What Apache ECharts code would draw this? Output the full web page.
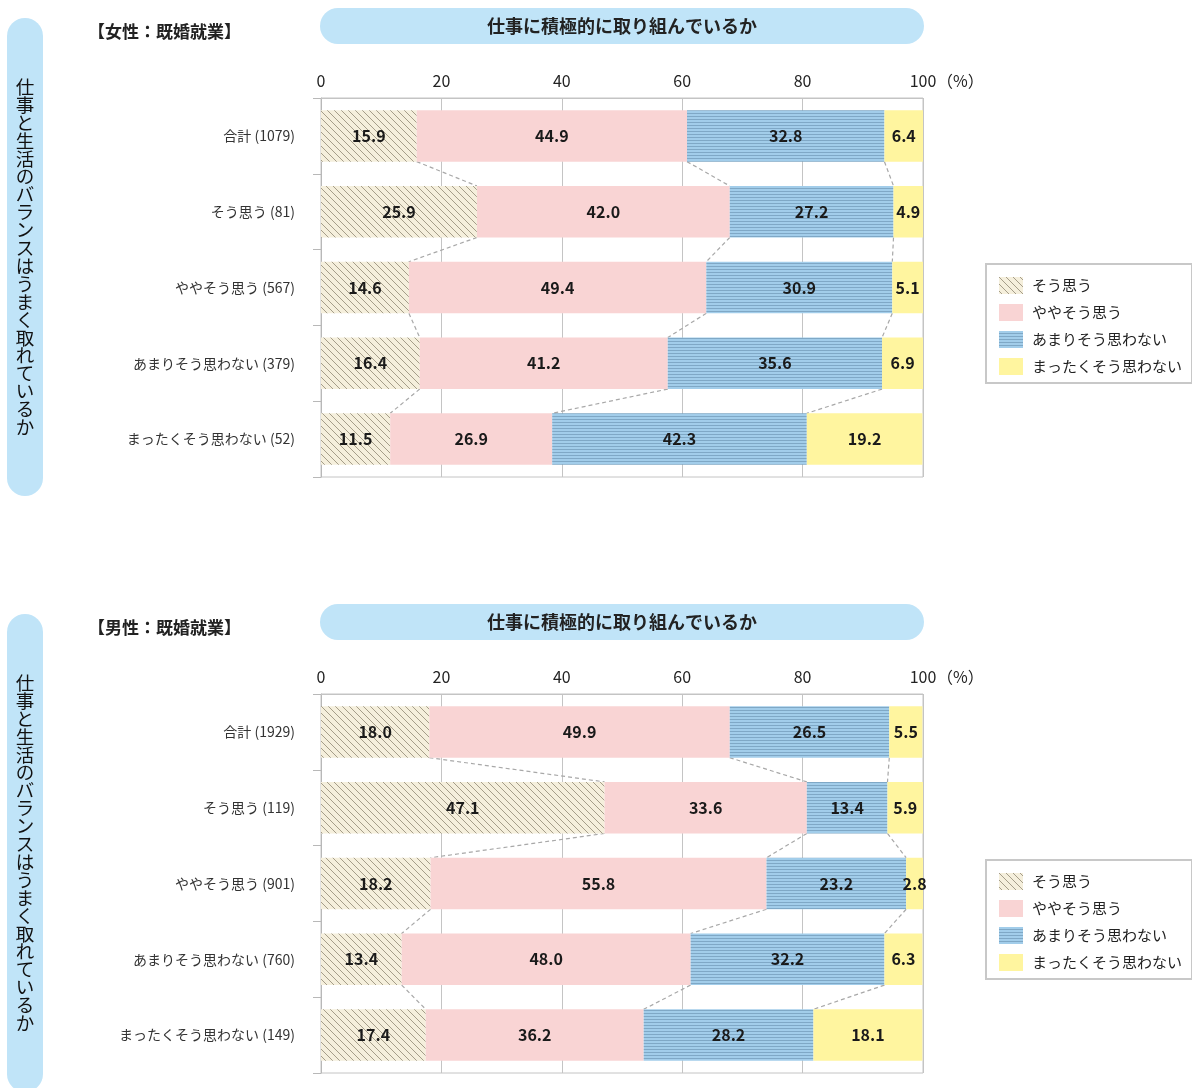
<!DOCTYPE html>
<html><head><meta charset="utf-8">
<script src="https://cdn.jsdelivr.net/npm/echarts/dist/echarts.min.js"></script>
<style>html,body{margin:0;padding:0;background:#fff}#c{width:1192px;height:1088px}</style>
</head><body><div id="c"></div><script>
const seriesNames = ['そう思う','ややそう思う','あまりそう思わない','まったくそう思わない'];
const xTicks = [0,20,40,60,80,100];
const sideTitle = '仕事と生活のバランスはうまく取れているか';
const chartTitle = '仕事に積極的に取り組んでいるか';

const femaleHeading = '【女性：既婚就業】';
const femaleCategories = ['合計 (1079)','そう思う (81)','ややそう思う (567)','あまりそう思わない (379)','まったくそう思わない (52)'];
const femaleSou = [15.9,25.9,14.6,16.4,11.5];
const femaleYaya = [44.9,42.0,49.4,41.2,26.9];
const femaleAmari = [32.8,27.2,30.9,35.6,42.3];
const femaleMattaku = [6.4,4.9,5.1,6.9,19.2];

const maleHeading = '【男性：既婚就業】';
const maleCategories = ['合計 (1929)','そう思う (119)','ややそう思う (901)','あまりそう思わない (760)','まったくそう思わない (149)'];
const maleSou = [18.0,47.1,18.2,13.4,17.4];
const maleYaya = [49.9,33.6,55.8,48.0,36.2];
const maleAmari = [26.5,13.4,23.2,32.2,28.2];
const maleMattaku = [5.5,5.9,2.8,6.3,18.1];

const FONT = '"Noto Sans CJK JP","Noto Sans",sans-serif';

function hatchCanvas(){
  const s=7,c=document.createElement('canvas');c.width=c.height=s;const g=c.getContext('2d');
  g.fillStyle='#f5efdc';g.fillRect(0,0,s,s);
  g.strokeStyle='#a59d89';g.lineWidth=1;g.beginPath();
  g.moveTo(-1,-1);g.lineTo(s+1,s+1);g.moveTo(-1,s-1);g.lineTo(1,s+1);g.moveTo(s-1,-1);g.lineTo(s+1,1);g.stroke();
  return c;
}
function stripeCanvas(){
  const c=document.createElement('canvas');c.width=4;c.height=3;const g=c.getContext('2d');
  g.fillStyle='#a2cdea';g.fillRect(0,0,4,3);g.fillStyle='#7fa8c6';g.fillRect(0,2,4,1);
  return c;
}
const colors = [
  {image:hatchCanvas(),repeat:'repeat'},
  '#f9d4d4',
  {image:stripeCanvas(),repeat:'repeat'},
  '#fff59f'
];

const chart = echarts.init(document.getElementById('c'));
const panels = [
  {cats:femaleCategories, vals:[femaleSou,femaleYaya,femaleAmari,femaleMattaku], heading:femaleHeading, dy:0},
  {cats:maleCategories, vals:[maleSou,maleYaya,maleAmari,maleMattaku], heading:maleHeading, dy:596}
];
const BAR_RATIO = 0.68;
const grids=[],xAxes=[],yAxes=[],series=[],legends=[],graphics=[];
panels.forEach((p,pi)=>{
  grids.push({left:321,width:602,top:98+p.dy,height:379,show:true,borderColor:'#c4c4c4',borderWidth:1});
  xAxes.push({gridIndex:pi,type:'value',position:'top',min:xTicks[0],max:xTicks[xTicks.length-1],interval:xTicks[1]-xTicks[0],
    axisLine:{show:true,lineStyle:{color:'#c4c4c4',width:1}},axisTick:{show:false},
    splitLine:{show:true,lineStyle:{color:'#c4c4c4',width:1}},
    axisLabel:{fontFamily:FONT,fontSize:16,color:'#222',margin:9}});
  yAxes.push({gridIndex:pi,type:'category',inverse:true,data:p.cats,
    axisLine:{show:true,lineStyle:{color:'#b8b8b8',width:1}},
    axisTick:{show:true,length:8,lineStyle:{color:'#b8b8b8'}},
    axisLabel:{fontFamily:FONT,fontSize:14,color:'#333',margin:26}});
  p.vals.forEach((v,si)=>{
    series.push({type:'bar',name:seriesNames[si],xAxisIndex:pi,yAxisIndex:pi,stack:'s'+pi,
      barWidth:(BAR_RATIO*100)+'%',data:v,itemStyle:{color:colors[si]},
      label:{show:true,position:'inside',fontFamily:FONT,fontSize:16,fontWeight:'bold',color:'#1a1a1a',
        formatter:d=>d.value.toFixed(1)},
      emphasis:{disabled:true},z:3});
  });
  const cum = p.cats.map((_,r)=>{let s=0;return [0,1,2].map(k=>{s+=p.vals[k][r];return s;});});
  const conn = [];
  for(let r=0;r<p.cats.length-1;r++) conn.push([r].concat(cum[r],cum[r+1]));
  series.push({type:'custom',xAxisIndex:pi,yAxisIndex:pi,silent:true,z:1,data:conn,
    renderItem:(params,api)=>{
      const r=api.value(0);const half=api.size([0,1])[1]*BAR_RATIO/2;const ch=[];
      for(let k=0;k<3;k++){
        const a=api.coord([api.value(1+k),r]);const b=api.coord([api.value(4+k),r+1]);
        ch.push({type:'line',shape:{x1:a[0],y1:a[1]+half,x2:b[0],y2:b[1]-half},
          style:{stroke:'#a8a8a8',lineWidth:1.2,lineDash:[4,3]}});
      }
      return {type:'group',children:ch};
    }});
  legends.push({orient:'vertical',left:986,top:264+p.dy,data:seriesNames,icon:'rect',
    itemWidth:24,itemHeight:17,itemGap:10,padding:[13,10,8,13],
    borderColor:'#c8c8c8',borderWidth:2,selectedMode:false,
    textStyle:{fontFamily:FONT,fontSize:15,color:'#222',padding:[0,0,0,4]}});
  graphics.push(
    {type:'rect',left:7,top:18+p.dy,shape:{width:36,height:478,r:18},style:{fill:'#c0e4f8'}},
    {type:'text',style:{x:25,y:257+p.dy,text:sideTitle.split('').join('\n'),fontFamily:FONT,fontSize:18.5,lineHeight:17.9,
      fill:'#111',align:'center',verticalAlign:'middle'}},
    {type:'rect',left:320,top:8+p.dy,shape:{width:604,height:36,r:18},style:{fill:'#c0e4f8'}},
    {type:'text',style:{x:622,y:26+p.dy,text:chartTitle,fontFamily:FONT,fontSize:18,fontWeight:'bold',
      fill:'#222',align:'center',verticalAlign:'middle'}},
    {type:'text',style:{x:88,y:32+p.dy,text:p.heading,fontFamily:FONT,fontSize:17,fontWeight:'bold',
      fill:'#222',align:'left',verticalAlign:'middle'}},
    {type:'text',style:{x:937,y:81+p.dy,text:'（%）',fontFamily:FONT,fontSize:16,
      fill:'#222',align:'left',verticalAlign:'middle'}}
  );
});
chart.setOption({animation:false,grid:grids,xAxis:xAxes,yAxis:yAxes,series:series,legend:legends,graphic:graphics});
</script></body></html>
